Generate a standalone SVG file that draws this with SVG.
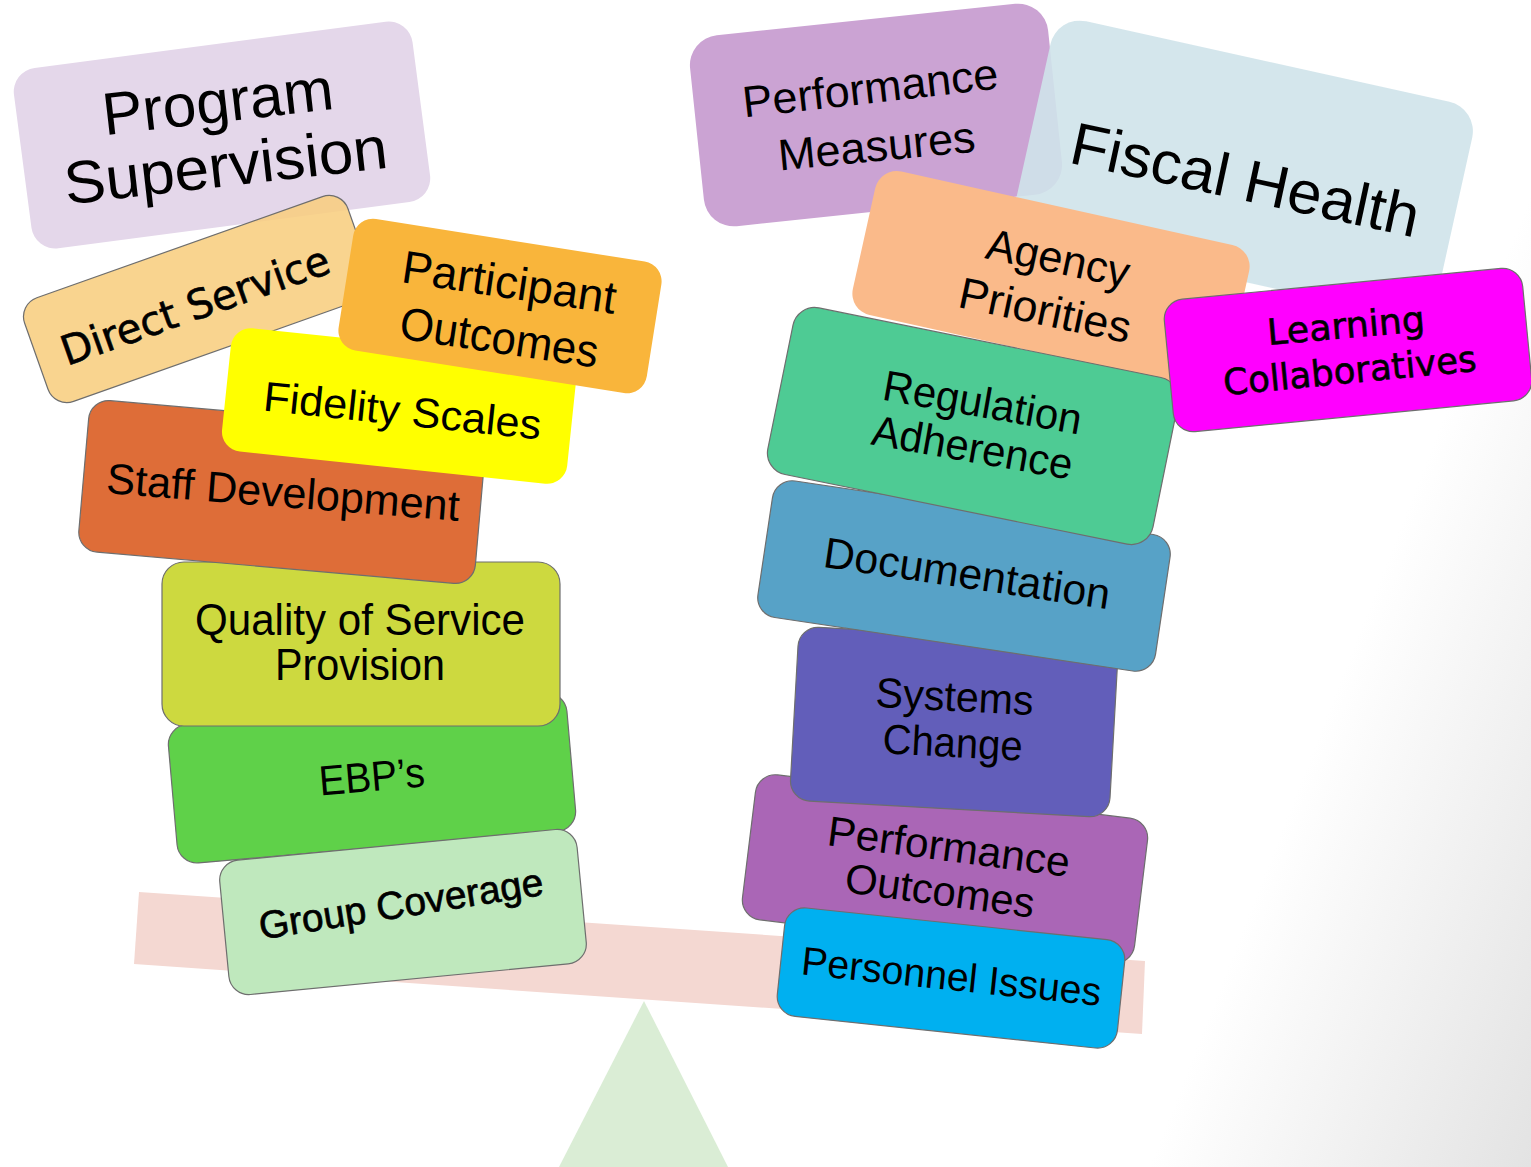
<svg xmlns="http://www.w3.org/2000/svg" width="1531" height="1167" viewBox="0 0 1531 1167">
  <defs>
    <linearGradient id="bgShade" gradientUnits="userSpaceOnUse" x1="1392" y1="548" x2="1721" y2="677">
      <stop offset="0" stop-color="#ffffff"/>
      <stop offset="1" stop-color="#e3e3e3"/>
    </linearGradient>
  </defs>
  <style>
    .card { stroke: none; }
    .edged { stroke: #6e6e6e; stroke-width: 1.2; }
    text { fill: #000; text-anchor: middle; }
    .lbl { font-family: "Liberation Sans", Arial, sans-serif; }
    .lblw { font-family: "DejaVu Sans", Verdana, sans-serif; stroke: #000; stroke-width: 0.6; }
    .heavy { stroke: #000; stroke-width: 0.7; }
  </style>

  <!-- page background -->
  <rect x="0" y="0" width="1531" height="1167" fill="url(#bgShade)"/>

  <!-- seesaw: fulcrum and beam -->
  <g id="balance">
    <polygon points="644,1001 728,1167 559,1167" fill="#DAEDD5"/>
    <polygon points="139,892 1145,961 1142,1034 134,964" fill="#F4D8D2"/>
  </g>

  <!-- left stack -->
  <g id="program-supervision">
    <rect class="card" transform="translate(222 135) rotate(-7.5)" x="-201" y="-91" width="402" height="182" rx="24" fill="#E4D7EA"/>
    <text class="lbl" font-size="60" transform="translate(220 122) rotate(-6.5)" textLength="232" lengthAdjust="spacingAndGlyphs">Program</text>
    <text class="lbl" font-size="60" transform="translate(228 186) rotate(-6.5)" textLength="325" lengthAdjust="spacingAndGlyphs">Supervision</text>
  </g>

  <g id="ebps">
    <rect class="card edged" transform="translate(372 778) rotate(-5)" x="-200" y="-69.5" width="400" height="139" rx="20" fill="#5FD149"/>
    <text class="lbl" font-size="42" transform="translate(373 791) rotate(-5)" textLength="106" lengthAdjust="spacingAndGlyphs">EBP’s</text>
  </g>

  <g id="quality-of-service">
    <rect class="card edged" x="162" y="562" width="398" height="164" rx="22" fill="#CDD93F"/>
    <text class="lbl" font-size="44" x="360" y="635" textLength="330" lengthAdjust="spacingAndGlyphs">Quality of Service</text>
    <text class="lbl" font-size="44" x="360" y="680" textLength="170" lengthAdjust="spacingAndGlyphs">Provision</text>
  </g>

  <g id="staff-development">
    <rect class="card edged" transform="translate(282 492) rotate(5)" x="-199" y="-76" width="398" height="152" rx="20" fill="#DE6D38"/>
    <text class="lbl" font-size="43" transform="translate(282 507) rotate(4.5)" textLength="354" lengthAdjust="spacingAndGlyphs">Staff Development</text>
  </g>

  <g id="direct-service">
    <rect class="card edged" transform="translate(198 299) rotate(-19.5)" x="-171.5" y="-55" width="343" height="110" rx="20" fill="#F8CE80" fill-opacity="0.88"/>
    <text class="lblw" font-size="41" transform="translate(200 319) rotate(-19.5)" textLength="282" lengthAdjust="spacingAndGlyphs">Direct Service</text>
  </g>

  <g id="fidelity-scales">
    <rect class="card" transform="translate(399 406) rotate(6)" x="-173.5" y="-62" width="347" height="124" rx="20" fill="#FFFF00"/>
    <text class="lbl" font-size="42" transform="translate(401 425) rotate(6)" textLength="279" lengthAdjust="spacingAndGlyphs">Fidelity Scales</text>
  </g>

  <g id="participant-outcomes">
    <rect class="card" transform="translate(500 306) rotate(9)" x="-156" y="-66.5" width="312" height="133" rx="20" fill="#F9B53B"/>
    <text class="lbl" font-size="46" transform="translate(507 298) rotate(8.5)" textLength="216" lengthAdjust="spacingAndGlyphs">Participant</text>
    <text class="lbl" font-size="46" transform="translate(497 353) rotate(8.5)" textLength="200" lengthAdjust="spacingAndGlyphs">Outcomes</text>
  </g>

  <g id="group-coverage">
    <rect class="card edged" transform="translate(403 912) rotate(-5.5)" x="-179.5" y="-67.5" width="359" height="135" rx="20" fill="#BFE8BD"/>
    <text class="lbl heavy" font-size="39" transform="translate(403 917) rotate(-9)" textLength="287" lengthAdjust="spacingAndGlyphs">Group Coverage</text>
  </g>

  <!-- right stack -->
  <g id="performance-measures">
    <rect class="card" transform="translate(876 115) rotate(-6)" x="-180" y="-96" width="360" height="192" rx="30" fill="#CBA3D3"/>
    <text class="lbl" font-size="44" transform="translate(872 103) rotate(-6.5)" textLength="257" lengthAdjust="spacingAndGlyphs">Performance</text>
    <text class="lbl" font-size="44" transform="translate(878 161) rotate(-5.5)" textLength="198" lengthAdjust="spacingAndGlyphs">Measures</text>
  </g>

  <g id="fiscal-health">
    <rect class="card" transform="translate(1244 169) rotate(12.5)" x="-216" y="-110" width="432" height="220" rx="30" fill="#CFE3EA" fill-opacity="0.9"/>
    <text class="lbl" font-size="60" transform="translate(1241 200) rotate(12.2)" textLength="355" lengthAdjust="spacingAndGlyphs">Fiscal Health</text>
  </g>

  <g id="agency-priorities">
    <rect class="card" transform="translate(1051 280) rotate(12.5)" x="-191.5" y="-73.5" width="383" height="147" rx="22" fill="#FABA8A"/>
    <text class="lbl" font-size="44" transform="translate(1055 273) rotate(12)" textLength="145" lengthAdjust="spacingAndGlyphs">Agency</text>
    <text class="lbl" font-size="44" transform="translate(1042 325) rotate(12)" textLength="175" lengthAdjust="spacingAndGlyphs">Priorities</text>
  </g>

  <g id="performance-outcomes">
    <rect class="card edged" transform="translate(945 869) rotate(7)" x="-197.5" y="-73" width="395" height="146" rx="20" fill="#AA66B6"/>
    <text class="lbl" font-size="42" transform="translate(947 861) rotate(7.5)" textLength="244" lengthAdjust="spacingAndGlyphs">Performance</text>
    <text class="lbl" font-size="42" transform="translate(938 905) rotate(7.8)" textLength="191" lengthAdjust="spacingAndGlyphs">Outcomes</text>
  </g>

  <g id="systems-change">
    <rect class="card edged" transform="translate(954 722) rotate(3.2)" x="-160" y="-87" width="320" height="174" rx="20" fill="#625EBA"/>
    <text class="lbl" font-size="42" transform="translate(954 711) rotate(3)" textLength="158" lengthAdjust="spacingAndGlyphs">Systems</text>
    <text class="lbl" font-size="42" transform="translate(952 757) rotate(3)" textLength="140" lengthAdjust="spacingAndGlyphs">Change</text>
  </g>

  <g id="documentation">
    <rect class="card edged" transform="translate(964 576) rotate(8.5)" x="-201" y="-69" width="402" height="138" rx="20" fill="#57A2C7"/>
    <text class="lbl" font-size="43" transform="translate(965 588) rotate(8.5)" textLength="289" lengthAdjust="spacingAndGlyphs">Documentation</text>
  </g>

  <g id="regulation-adherence">
    <rect class="card edged" transform="translate(973 426) rotate(11.5)" x="-196.5" y="-85" width="393" height="170" rx="22" fill="#4ECB94"/>
    <text class="lbl" font-size="43" transform="translate(980 417) rotate(10)" textLength="201" lengthAdjust="spacingAndGlyphs">Regulation</text>
    <text class="lbl" font-size="43" transform="translate(970 462) rotate(10)" textLength="203" lengthAdjust="spacingAndGlyphs">Adherence</text>
  </g>

  <g id="learning-collaboratives">
    <rect class="card edged" transform="translate(1348 350) rotate(-5.5)" x="-180" y="-66.5" width="360" height="133" rx="20" fill="#FF00FF"/>
    <text class="lblw" font-size="36" transform="translate(1347 338) rotate(-5)" textLength="158" lengthAdjust="spacingAndGlyphs">Learning</text>
    <text class="lblw" font-size="36" transform="translate(1351 383) rotate(-5.5)" textLength="254" lengthAdjust="spacingAndGlyphs">Collaboratives</text>
  </g>

  <g id="personnel-issues">
    <rect class="card edged" transform="translate(951 978) rotate(6)" x="-171" y="-54.5" width="342" height="109" rx="20" fill="#00B0F0"/>
    <text class="lbl" font-size="40" transform="translate(950 990) rotate(6)" textLength="301" lengthAdjust="spacingAndGlyphs">Personnel Issues</text>
  </g>
</svg>
